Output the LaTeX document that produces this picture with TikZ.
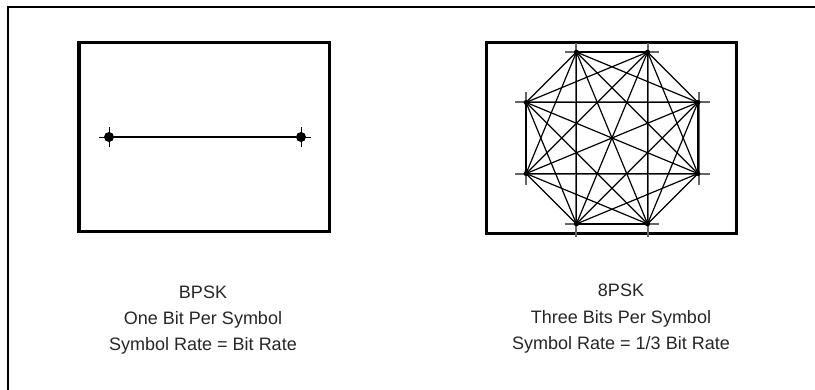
\documentclass[tikz,border=0pt]{standalone}
\usepackage{fontspec}
\setmainfont{Liberation Sans}
\usetikzlibrary{calc}
\begin{document}
\begin{tikzpicture}[x=1pt,y=-1pt,
  frameline/.style={line width=2.8pt, line cap=rect},
  panel/.style={line width=3.2pt},
  conn/.style={line width=1.2pt},
  gridline/.style={line width=1.4pt, draw=black!60},
  tick/.style={line width=1pt},
  bigdot/.style={circle, fill=black, inner sep=0pt, minimum size=10pt},
  smalldot/.style={circle, fill=black, inner sep=0pt, minimum size=5pt},
  lbl/.style={font=\fontsize{18}{22}\selectfont, anchor=base, text=black!85, inner sep=0pt}]
\useasboundingbox (0,0) rectangle (815,389);
% outer frame (top and left only)
\draw[frameline] (8,392) -- (8,7) -- (818,7);

% ---------------- BPSK ----------------
\draw[panel] (79,42.5) rectangle (329.3,231.7);
\node[bigdot] (b1) at (109,137) {};
\node[bigdot] (b2) at (301,137) {};
\draw[conn] (b1) -- (b2);
\foreach \p in {b1,b2}{
  \draw[tick] ([xshift=-10pt]\p.center) -- ([xshift=10pt]\p.center);
  \draw[tick] ([yshift=-10pt]\p.center) -- ([yshift=10pt]\p.center);
}
\node[lbl] (t1) at (203,298) {BPSK};
\node[lbl] (t2) at (203,324) {One Bit Per Symbol};
\node[lbl] (t3) at (203,350) {Symbol Rate = Bit Rate};

% ---------------- 8PSK ----------------
\draw[panel] (486.5,42.5) rectangle (736.5,233.5);
\coordinate (c) at (612,138);
% grid lines
\draw[gridline] (576,42.5) -- (576,237);
\draw[gridline] (648,42.5) -- (648,237);
\draw[gridline] (515,102) -- (710,102);
\draw[gridline] (515,174) -- (710,174);
\draw[gridline] (526,92) -- (526,185);
\draw[gridline] (699,92) -- (699,185);
\draw[gridline] (565,52) -- (659,52);
\draw[gridline] (565,224) -- (659,224);
% constellation points
\foreach \k in {0,...,7}{
  \node[smalldot] (q\k) at ($(c)+({22.5+45*\k}:93)$) {};
}
\foreach \i in {0,...,6}{
  \pgfmathtruncatemacro{\jstart}{\i+1}
  \foreach \j in {\jstart,...,7}{
    \draw[conn] (q\i.center) -- (q\j.center);
  }
}
\node[lbl] (u1) at (621,296) {8PSK};
\node[lbl] (u2) at (621,323) {Three Bits Per Symbol};
\node[lbl] (u3) at (621,349) {Symbol Rate = 1/3 Bit Rate};
\end{tikzpicture}
\end{document}
